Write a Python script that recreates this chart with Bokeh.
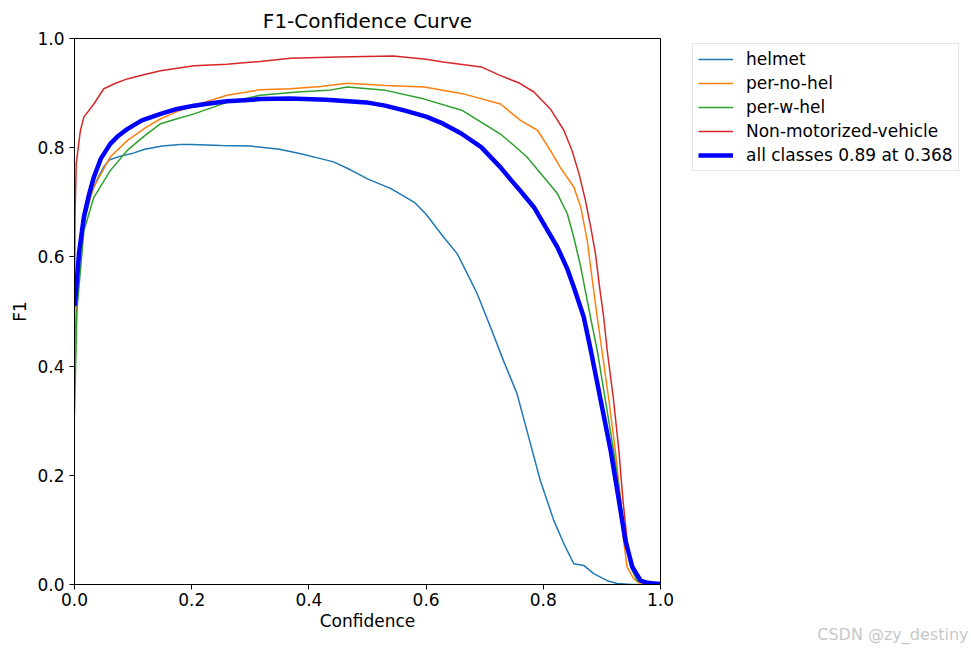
from bokeh.plotting import figure
from bokeh.models import Range1d, Legend, LegendItem, Title, FixedTicker, PrintfTickFormatter
from bokeh.embed import file_html
from bokeh.resources import INLINE

# ---- data ----
helmet_x = [0.0, 0.005, 0.01, 0.02, 0.03, 0.04, 0.05, 0.06, 0.08, 0.1, 0.12, 0.15, 0.18, 0.2, 0.25,
            0.3, 0.35, 0.386, 0.42, 0.442, 0.47, 0.5, 0.54, 0.58, 0.6, 0.63, 0.653, 0.676, 0.687,
            0.71, 0.732, 0.755, 0.778, 0.795, 0.818, 0.835, 0.852, 0.869, 0.886, 0.909, 0.926, 0.95, 1.0]
helmet_y = [0.42, 0.55, 0.62, 0.68, 0.72, 0.745, 0.765, 0.778, 0.785, 0.79, 0.797, 0.803, 0.806, 0.806, 0.804,
            0.803, 0.797, 0.789, 0.78, 0.774, 0.76, 0.743, 0.725, 0.70, 0.678, 0.636, 0.606, 0.557, 0.533,
            0.471, 0.41, 0.35, 0.258, 0.19, 0.117, 0.075, 0.038, 0.035, 0.02, 0.007, 0.002, 0.0, 0.0]

noh_x = [0.0, 0.005, 0.016, 0.033, 0.061, 0.09, 0.12, 0.147, 0.175, 0.204, 0.26, 0.317, 0.368, 0.42,
         0.466, 0.531, 0.597, 0.662, 0.727, 0.761, 0.79, 0.812, 0.829, 0.852, 0.864, 0.875, 0.883,
         0.892, 0.9, 0.912, 0.923, 0.932, 0.937, 0.943, 0.954, 0.963, 0.98, 1.0]
noh_y = [0.36, 0.55, 0.673, 0.728, 0.783, 0.813, 0.836, 0.853, 0.866, 0.877, 0.896, 0.906, 0.908, 0.912,
         0.918, 0.914, 0.911, 0.899, 0.88, 0.85, 0.832, 0.795, 0.764, 0.728, 0.691, 0.63, 0.563,
         0.49, 0.429, 0.337, 0.245, 0.154, 0.081, 0.032, 0.011, 0.003, 0.001, 0.0]

wh_x = [0.0, 0.004, 0.016, 0.033, 0.061, 0.09, 0.12, 0.147, 0.175, 0.204, 0.26, 0.317, 0.38, 0.433,
        0.466, 0.531, 0.597, 0.662, 0.727, 0.75, 0.772, 0.801, 0.824, 0.841, 0.852, 0.864, 0.875,
        0.881, 0.892, 0.906, 0.92, 0.932, 0.94, 0.949, 0.96, 0.98, 1.0]
wh_y = [0.31, 0.5, 0.648, 0.709, 0.758, 0.795, 0.822, 0.844, 0.853, 0.862, 0.883, 0.896, 0.902, 0.905,
        0.911, 0.905, 0.889, 0.868, 0.825, 0.804, 0.783, 0.746, 0.716, 0.679, 0.636, 0.581, 0.52,
        0.487, 0.429, 0.337, 0.245, 0.154, 0.081, 0.032, 0.007, 0.001, 0.0]

nmv_x = [0.0, 0.001, 0.003, 0.01, 0.016, 0.033, 0.05, 0.07, 0.09, 0.12, 0.147, 0.204, 0.26, 0.317,
         0.368, 0.45, 0.544, 0.6, 0.629, 0.694, 0.727, 0.76, 0.784, 0.812, 0.835, 0.849, 0.861,
         0.872, 0.881, 0.889, 0.896, 0.903, 0.909, 0.92, 0.929, 0.936, 0.943, 0.952, 0.966, 0.98, 1.0]
nmv_y = [0.5, 0.68, 0.771, 0.831, 0.856, 0.88, 0.908, 0.918, 0.926, 0.934, 0.941, 0.95, 0.953, 0.958,
         0.964, 0.966, 0.968, 0.962, 0.957, 0.948, 0.932, 0.918, 0.902, 0.871, 0.832, 0.795, 0.752,
         0.703, 0.654, 0.606, 0.545, 0.49, 0.429, 0.337, 0.245, 0.154, 0.081, 0.032, 0.007, 0.002, 0.0]

all_x = [0.0, 0.002, 0.008, 0.016, 0.025, 0.033, 0.045, 0.061, 0.075, 0.09, 0.115, 0.147, 0.175,
         0.204, 0.23, 0.26, 0.29, 0.317, 0.368, 0.43, 0.498, 0.53, 0.564, 0.6, 0.629, 0.66, 0.694,
         0.727, 0.744, 0.76, 0.784, 0.8, 0.824, 0.841, 0.852, 0.869, 0.881, 0.898, 0.915, 0.929,
         0.94, 0.952, 0.966, 0.978, 0.989, 1.0]
all_y = [0.51, 0.53, 0.61, 0.673, 0.715, 0.746, 0.78, 0.807, 0.822, 0.834, 0.85, 0.862, 0.871,
         0.877, 0.881, 0.885, 0.887, 0.889, 0.89, 0.888, 0.883, 0.877, 0.868, 0.857, 0.844, 0.826, 0.801,
         0.764, 0.742, 0.722, 0.691, 0.662, 0.618, 0.578, 0.545, 0.49, 0.429, 0.337, 0.245, 0.154,
         0.081, 0.032, 0.007, 0.003, 0.002, 0.001]

labels = ["helmet", "per-no-hel", "per-w-hel", "Non-motorized-vehicle", "all classes 0.89 at 0.368"]
x_ticks = [0.0, 0.2, 0.4, 0.6, 0.8, 1.0]
y_ticks = [0.0, 0.2, 0.4, 0.6, 0.8, 1.0]
watermark = "CSDN @zy_destiny"

FONT = "DejaVu Sans"

p = figure(frame_width=586, frame_height=546, output_backend="svg", toolbar_location=None,
           x_range=Range1d(0, 1), y_range=Range1d(0, 1),
           min_border_left=74, min_border_right=311, min_border_top=38, min_border_bottom=67,
           title="F1-Confidence Curve")
p.title.align = "center"
p.title.text_font = FONT
p.title.text_font_size = "20px"
p.title.text_font_style = "normal"
p.title.text_color = "black"
p.title.standoff = 11
p.title.offset = 0

p.xgrid.visible = False
p.ygrid.visible = False
p.outline_line_color = "black"
p.outline_line_width = 1
p.background_fill_color = "white"
p.border_fill_color = "white"

for ax, ticks in ((p.xaxis, x_ticks), (p.yaxis, y_ticks)):
    ax.ticker = FixedTicker(ticks=ticks)
    ax.formatter = PrintfTickFormatter(format="%.1f")
    ax.minor_tick_line_color = None
    ax.major_tick_in = 0
    ax.major_tick_out = 5
    ax.axis_line_color = "black"
    ax.major_tick_line_color = "black"
    ax.major_label_text_font = FONT
    ax.major_label_text_font_size = "17px"
    ax.major_label_text_color = "black"
    ax.axis_label_text_font = FONT
    ax.axis_label_text_font_size = "17px"
    ax.axis_label_text_font_style = "normal"
    ax.axis_label_text_color = "black"
p.xaxis.axis_label = "Confidence"
p.yaxis.axis_label = "F1"
p.xaxis.major_label_standoff = 3
p.yaxis.major_label_standoff = 5
p.xaxis.axis_label_standoff = 2
p.yaxis.axis_label_standoff = 4

r1 = p.line(helmet_x, helmet_y, line_color="#1f77b4", line_width=1.5)
r2 = p.line(noh_x, noh_y, line_color="#ff7f0e", line_width=1.5)
r3 = p.line(wh_x, wh_y, line_color="#2ca02c", line_width=1.5)
r4 = p.line(nmv_x, nmv_y, line_color="#d62728", line_width=1.5)
r5 = p.line(all_x, all_y, line_color="blue", line_width=4.5, line_join="round")

legend = Legend(items=[LegendItem(label=l, renderers=[r]) for l, r in zip(labels, [r1, r2, r3, r4, r5])],
                location=(32, 413), orientation="vertical")
legend.label_text_font = FONT
legend.label_text_font_size = "17px"
legend.label_text_color = "black"
legend.label_height = 20
legend.glyph_height = 20
legend.glyph_width = 35
legend.label_standoff = 13
legend.spacing = 4
legend.padding = 5
legend.margin = 0
legend.border_line_color = "#cccccc"
legend.border_line_width = 1
legend.background_fill_color = "white"
legend.background_fill_alpha = 1.0
p.add_layout(legend, "right")

wm = Title(text=watermark, align="right", offset=-308, vertical_align="top", standoff=-18,
           text_font=FONT, text_font_size="16px", text_font_style="normal", text_color="#c8c8c8")
p.add_layout(wm, "below")

open("out.html", "w").write(file_html(p, INLINE))
